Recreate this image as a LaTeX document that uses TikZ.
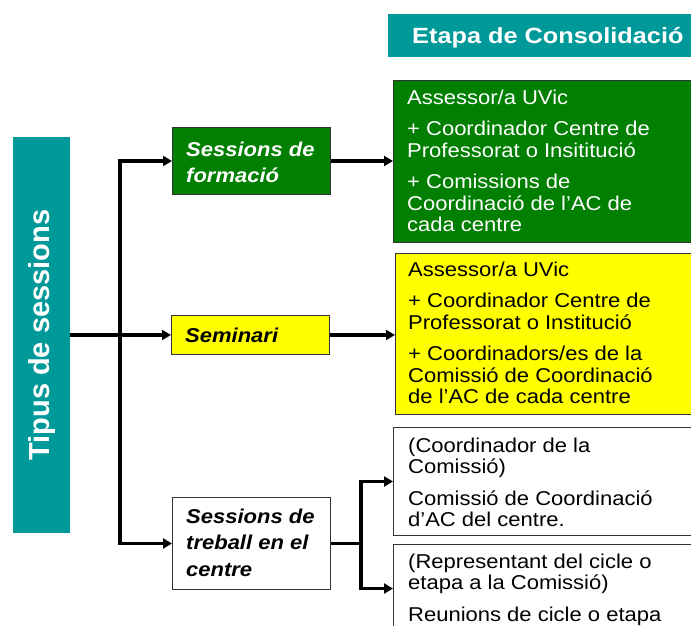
\documentclass[tikz,border=0pt]{standalone}
\usepackage{fontspec}
\setmainfont{Liberation Sans}
\newfontfamily\bxfont[FakeStretch=1.1]{Liberation Sans}
\newfontfamily\hdfont[FakeStretch=1.15]{Liberation Sans}
\usetikzlibrary{arrows.meta}
\definecolor{tealc}{HTML}{009999}
\definecolor{greenc}{HTML}{007F00}
\definecolor{yellowc}{HTML}{FFFF00}
\definecolor{borderc}{HTML}{333333}
\newcommand\fl{\rule{0pt}{24pt}}
\newcommand\txtfont{\bxfont\fontsize{20}{21.5}\selectfont\lineskiplimit=-100pt\relax}
\newcommand\lblfont{\bxfont\bfseries\itshape\fontsize{20}{26.5}\selectfont\lineskiplimit=-100pt\relax}
\begin{document}
\begin{tikzpicture}[x=1pt,y=-1pt,
  box/.style={draw=borderc, line width=1pt, inner sep=0pt, anchor=north west},
  band/.style={fill=tealc, inner sep=0pt, anchor=north west},
  txt/.style={inner sep=0pt, anchor=north west, align=left, font=\txtfont},
  lbl/.style={inner sep=0pt, anchor=north west, align=left, font=\lblfont},
  conn/.style={line width=3.2pt, line cap=rect},
  arr/.style={line width=3.2pt, -{Triangle[length=9pt,width=10pt]}}]
\useasboundingbox (0,0) rectangle (691,625);
\fill[white] (0,0) rectangle (691,625);
\clip (0,0) rectangle (691,625);

% bands
\node[band, minimum width=320pt, minimum height=43pt] (H) at (388,14) {};
\node[anchor=base west, inner sep=0pt, text=white,
  font=\hdfont\bfseries\fontsize{22}{26}\selectfont] (Ht) at (412,43) {Etapa de Consolidació};
\node[band, minimum width=57pt, minimum height=396pt] (T) at (13,137) {};
\node[rotate=90, inner sep=0pt, text=white,
  font=\bfseries\fontsize{29}{34}\selectfont] (Tt) at (T.center) {Tipus de sessions};

% session boxes
\node[box, fill=greenc, minimum width=158pt, minimum height=67pt] (S1) at (172,127) {};
\node[lbl, text=white] (S1t) at (186,132) {\fl Sessions de\\ formació};
\node[box, fill=yellowc, minimum width=158pt, minimum height=39pt] (S2) at (171,315) {};
\node[lbl, anchor=base west] (S2t) at (185,342) {Seminari};
\node[box, fill=white, minimum width=158pt, minimum height=92pt] (S3) at (172,497) {};
\node[lbl] (S3t) at (186,499) {\fl Sessions de\\ treball en el\\ centre};

% right boxes
\node[box, fill=greenc, minimum width=310pt, minimum height=162pt] (G) at (393,80) {};
\node[txt, text=white] (Gt) at (407,80) {\fl Assessor/a UVic\\[10pt]
  + Coordinador Centre de\\ Professorat o Insititució\\[10pt]
  + Comissions de\\ Coordinació de l’AC de\\ cada centre};
\node[box, fill=yellowc, minimum width=310pt, minimum height=161pt] (Y) at (395,253) {};
\node[txt] (Yt) at (408,252) {\fl Assessor/a UVic\\[10pt]
  + Coordinador Centre de\\ Professorat o Institució\\[10pt]
  + Coordinadors/es de la\\ Comissió de Coordinació\\ de l’AC de cada centre};
\node[box, fill=white, minimum width=310pt, minimum height=108pt] (W1) at (393,427) {};
\node[txt] (W1t) at (408,428) {\fl (Coordinador de la\\ Comissió)\\[10pt]
  Comissió de Coordinació\\ d’AC del centre.};
\node[box, fill=white, minimum width=310pt, minimum height=88pt] (W2) at (393,544) {};
\node[txt] (W2t) at (408,544) {\fl (Representant del cicle o\\ etapa a la Comissió)\\[10pt]
  Reunions de cicle o etapa};

% connectors
\coordinate (trunkx) at (120,0);
\coordinate (jt) at (trunkx |- S1.west);
\coordinate (jb) at (trunkx |- S3.west);
\coordinate (forkx) at (361,0);
\coordinate (f1) at (forkx |- W1.west);
\coordinate (f2) at (forkx |- W2.west);
\coordinate (fk) at (forkx |- S3.east);

\draw[conn] (jt) -- (jb);
\draw[arr] (jt) -- (S1.west);
\draw[arr] (jb) -- (S3.west);
\draw[arr] (T.east |- S2.west) -- (S2.west);
\draw[arr] (S1.east) -- (S1.east -| G.west);
\draw[arr] (S2.east) -- (S2.east -| Y.west);
\draw[line width=3.2pt] (S3.east) -- (fk);
\draw[conn] (f1) -- (f2);
\draw[arr] (f1) -- (W1.west);
\draw[arr] (f2) -- (W2.west);
\end{tikzpicture}
\end{document}
